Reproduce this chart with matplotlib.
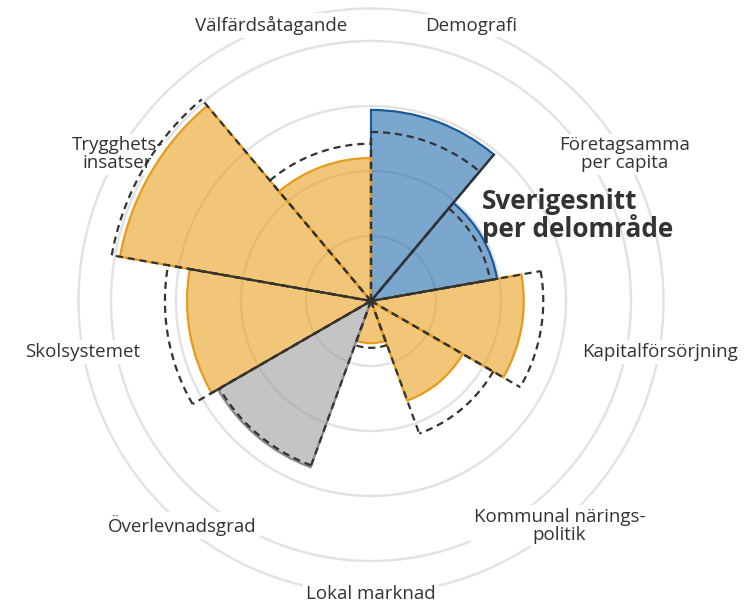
import matplotlib.pyplot as plt
import numpy as np

plt.rcParams['font.family'] = ['Open Sans', 'DejaVu Sans']

categories = ['Demografi', 'Företagsamma\nper capita', 'Kapitalförsörjning',
              'Kommunal närings-\npolitik', 'Lokal marknad', 'Överlevnadsgrad',
              'Skolsystemet', 'Trygghets-\ninsatser', 'Välfärdsåtagande']
values = [2.94, 1.97, 2.35, 1.63, 0.65, 2.72, 2.83, 3.92, 2.20]
snitt = [2.60, 1.86, 2.65, 2.17, 0.72, 2.69, 3.17, 4.05, 2.42]
groups = ['blue', 'blue', 'orange', 'orange', 'orange', 'gray', 'orange', 'orange', 'orange']
ring_levels = [1, 2, 3, 4, 4.5]

fill = {'blue': '#236caf', 'orange': '#e8a020', 'gray': '#9d9d9d'}
edge = {'blue': '#1a5a9a', 'orange': '#e69b1e', 'gray': '#888888'}
dark = '#333333'
dash = (0, (3.2, 2.2))

n = len(categories)
width = 2 * np.pi / n
theta = np.arange(n) * width + width / 2

fig = plt.figure(figsize=(7.49, 6.03), dpi=100)
W, H = 749, 603
rmax = 4.53
px = 65  # pixlar per enhet
cx, cy, R = 371, 302, rmax * px
ax = fig.add_axes([(cx - R) / W, (cy - R) / H, 2 * R / W, 2 * R / H], projection='polar')
ax.set_theta_zero_location('N')
ax.set_theta_direction(-1)
ax.set_ylim(0, rmax)
ax.set_yticks(ring_levels)
ax.set_yticklabels([])
ax.set_xticks([])
ax.set_axisbelow(True)
ax.yaxis.grid(True, color='#e2e2e2', lw=1.7)
ax.xaxis.grid(False)
ax.spines['polar'].set_visible(False)
ax.patch.set_alpha(0)

# vit bakgrund bakom etiketterna (döljer ringarna)
for t, c in zip(theta, categories):
    ax.text(t, 4.51, c, ha='center', va='center', fontsize=13.5, color='none',
            linespacing=1.0, zorder=1,
            bbox=dict(facecolor='white', edgecolor='none', pad=2))

# staplar
for t, v, g in zip(theta, values, groups):
    ax.bar(t, v, width=width, color=fill[g], alpha=0.6, edgecolor='none', zorder=2)
    ax.bar(t, v, width=width, color='none', edgecolor=edge[g], lw=1.6, zorder=3)

# sverigesnitt (streckad kontur)
for t, s in zip(theta, snitt):
    a0, a1 = t - width / 2, t + width / 2
    arc = np.linspace(a0, a1, 60)
    ax.plot(arc, np.full(len(arc), s), color=dark, lw=1.6, ls=dash, zorder=4)
    for a in (a0, a1):
        ax.plot([a, a], [0, s], color=dark, lw=1.6, ls=dash, zorder=4)

# heldragna kanter
dark_edges = [(1, 0), (2, 1), (6, 6), (7, 6)]
for k, i in dark_edges:
    ax.plot([k * width, k * width], [0, values[i]], color=dark, lw=1.6, zorder=5)

# etiketter
for t, c in zip(theta, categories):
    ax.text(t, 4.51, c, ha='center', va='center', fontsize=13.5, color='#333333',
            linespacing=1.0, zorder=6)

fig.text(482 / W, 1 - 188 / H, 'Sverigesnitt\nper delområde', ha='left', va='top',
         fontsize=18.8, fontweight='bold', color='#333333', linespacing=0.95)

fig.savefig('out.png', dpi=100)
